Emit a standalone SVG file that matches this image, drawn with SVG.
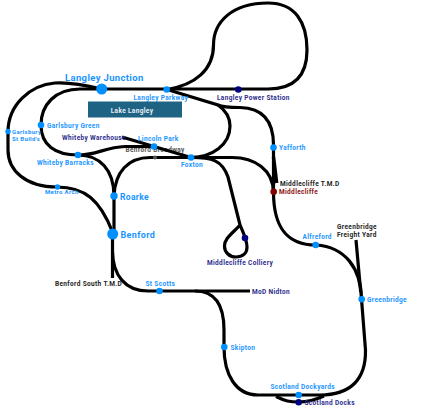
<svg xmlns="http://www.w3.org/2000/svg" width="421" height="406" viewBox="0 0 421 406">
<style>
text{font-family:"Roboto","Liberation Sans",sans-serif;font-weight:700;letter-spacing:.35px}
.c path{fill:none;stroke:#000;stroke-width:3.2}
.b{fill:#0090ff}.n{fill:#000080}.tb{fill:#1a95ff}.tn{fill:#2c2c8c}.tk{fill:#222}
.s6{font-size:6px}.s7{font-size:6.5px}.s9{font-size:9.5px}
</style>
<rect width="421" height="406" fill="#fff"/>
<g id="lake"><rect x="88" y="101.500" width="94" height="16" fill="#1f6384"/><text x="132" y="112.500" text-anchor="middle" class="s7" fill="#e8f0f5">Lake Langley</text></g>
<text x="125.500" y="152" class="s7" fill="#555">Benford Broadway</text>
<g id="connectors" class="c">
<path d="M101 89H268C292 89 307 78 307 50C307 22 295 3 268 3C232 3 213.500 22 213.500 45C213.500 70 195 85 167 89.500"/>
<path d="M167 89.500L218 105C228 112 230 120 230 126C230 145 212 157 191 157.500"/>
<path d="M218 105C222 107 230 107.500 240 107.500C262 108 273.500 120 273.500 145V192"/>
<path d="M191 157.500H232C255 157.500 273 170 273.500 192"/>
<path d="M273.500 157L276.700 183" style="stroke-width:3.500"/>
<path d="M191 157.500C212 157.500 222 160 228 177L240 225C243 232 247 240 247 247C247 254 242 257 236 257C229 257 224.500 252 224.500 246C224.500 238 233 233 240 225"/>
<path d="M273.500 192C273.500 225 285 245 316 245C345 247 361 268 361.500 299L365.500 350C366 380 350 395 320 395H258C236 395 224 375 224 347V330C224 305 215 291 195 291"/>
<path d="M112.500 234V278"/>
<path d="M112.500 252C113 275 125 291 148 291H250"/>
<path d="M356 240L360.700 292"/>
<path d="M276 396.500C285 401 290 402 299 402C308 402 315 400 324 396"/>
<path d="M101.700 89C85 85 70 82 55 83C30 85 8 105 8 132V150C8 170 25 187 57 187C85 187 100 200 112.500 232"/>
<path d="M101.700 89H80C55 89 41 105 41 125C41 145 55 155 78 155C100 155 114 170 114 196V234"/>
<path d="M78 155C95 156 105 147 125 146.500H154"/>
<path d="M122 137L191 157.500"/>
<path d="M114 196C115 172 128 157.500 150 157.500H191"/>
</g>
<g id="langley-junction"><circle class="b" cx="101.700" cy="89" r="5.500"/><text x="65" y="81" class="s9 tb">Langley Junction</text></g>
<g id="langley-parkway"><circle class="b" cx="166.700" cy="89.500" r="3.300"/><text x="133.500" y="100" class="s7 tb">Langley Parkway</text></g>
<g id="langley-power-station"><circle class="n" cx="238.300" cy="89.500" r="3.300"/><text x="217" y="99.500" class="s7 tn">Langley Power Station</text></g>
<g id="garlsbury-st-builds"><circle class="b" cx="8" cy="131.500" r="2.700"/><text x="12" y="134" class="s6 tb">Garlsbury</text><text x="12" y="140.500" class="s6 tb">St Build's</text></g>
<g id="garlsbury-green"><circle class="b" cx="41" cy="125" r="3.300"/><text x="47" y="127.500" class="s7 tb">Garlsbury Green</text></g>
<g id="whiteby-warehouse"><text x="62" y="140" class="s7 tn">Whiteby Warehouse</text></g>
<g id="lincoln-park"><circle class="b" cx="154" cy="146.500" r="3.300"/><text x="138" y="141" class="s7 tb">Lincoln Park</text></g>
<g id="benford-broadway"><circle fill="#555" cx="155" cy="157.500" r="2"/></g>
<g id="foxton"><circle class="b" cx="191" cy="157.500" r="3.300"/><text x="181" y="167" class="s7 tb">Foxton</text></g>
<g id="whiteby-barracks"><circle class="b" cx="78" cy="155" r="3.300"/><text x="37" y="164.500" class="s7 tb">Whiteby Barracks</text></g>
<g id="metro-arch"><circle class="b" cx="57.500" cy="187" r="2.700"/><text x="45" y="194" class="s6 tb">Metro Arch</text></g>
<g id="roarke"><circle class="b" cx="114" cy="196" r="3.700"/><text x="120" y="199.500" class="tb" style="font-size:8.500px">Roarke</text></g>
<g id="benford"><circle class="b" cx="112.700" cy="234" r="5.500"/><text x="120.500" y="237.500" class="tb" style="font-size:9px">Benford</text></g>
<g id="benford-south-tmd"><text x="55" y="286" class="s7 tk">Benford South T.M.D</text></g>
<g id="st-scotts"><circle class="b" cx="159.500" cy="291" r="3.300"/><text x="145.500" y="285.500" class="s7 tb">St Scotts</text></g>
<g id="mod-nidton"><text x="252" y="293.500" class="s7 tn">MoD Nidton</text></g>
<g id="yafforth"><circle class="b" cx="273.500" cy="147.500" r="3.300"/><text x="279" y="150" class="s7 tb">Yafforth</text></g>
<g id="middlecliffe-tmd"><text x="280" y="186" class="s7 tk">Middlecliffe T.M.D</text></g>
<g id="middlecliffe"><circle fill="#800000" cx="273.700" cy="191.700" r="3.300"/><text x="279" y="194" class="s7" fill="#8a1010">Middlecliffe</text></g>
<g id="middlecliffe-colliery"><circle class="n" cx="245" cy="238" r="3.300"/><text x="207" y="265" class="s7 tn">Middlecliffe Colliery</text></g>
<g id="alfreford"><circle class="b" cx="315.700" cy="245" r="3.300"/><text x="302.500" y="239" class="s7 tb">Alfreford</text></g>
<g id="greenbridge-freight-yard"><text x="337" y="228.500" class="s7 tk">Greenbridge</text><text x="337" y="236.500" class="s7 tk">Freight Yard</text></g>
<g id="greenbridge"><circle class="b" cx="361.700" cy="299.300" r="3.300"/><text x="367" y="301.500" class="s7 tb">Greenbridge</text></g>
<g id="skipton"><circle class="b" cx="224.300" cy="347" r="3.300"/><text x="230.500" y="350" class="s7 tb">Skipton</text></g>
<g id="scotland-dockyards"><circle class="b" cx="298.700" cy="395" r="3.300"/><text x="270.500" y="389" class="s7 tb">Scotland Dockyards</text></g>
<g id="scotland-docks"><text x="304.500" y="404.500" class="s7 tn">Scotland Docks</text><circle class="n" cx="298.700" cy="402.300" r="3.300"/></g>
</svg>
